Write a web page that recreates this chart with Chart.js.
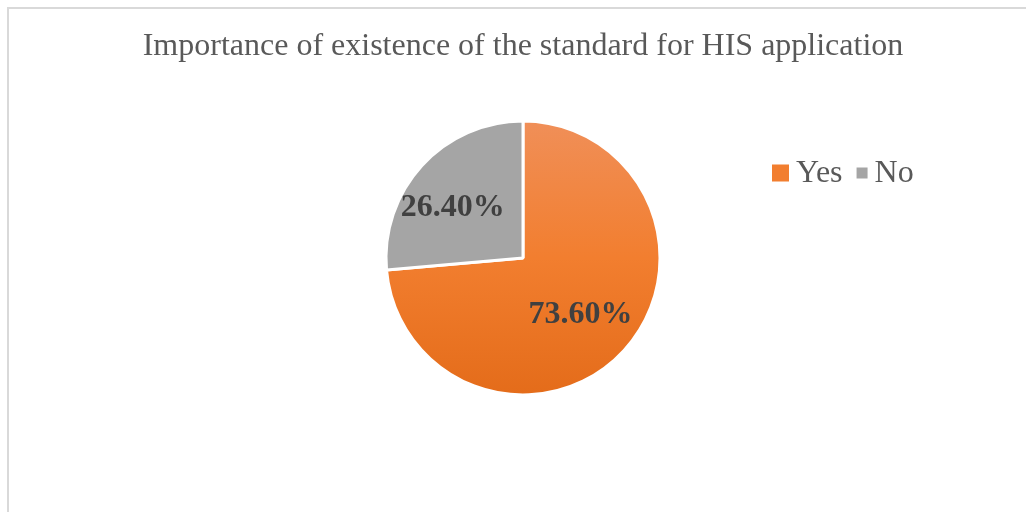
<!DOCTYPE html>
<html>
<head>
<meta charset="utf-8">
<script src="https://cdn.jsdelivr.net/npm/chart.js@4/dist/chart.umd.min.js"></script>
<style>
  html, body { margin: 0; padding: 0; background: #ffffff; }
  #wrap { position: relative; width: 1026px; height: 512px; }
</style>
</head>
<body>
<div id="wrap"><canvas id="pie" width="1026" height="512"></canvas></div>
<script>
// Survey answers and their shares (percent)
const categories = ['Yes', 'No'];
const shares = [73.6, 26.4];
const chartTitle = 'Importance of existence of the standard for HIS application';

const PIE_RADIUS = 137;
const SERIF = "'Liberation Serif', 'Times New Roman', serif";

// Orange slice gets a soft top-to-bottom gradient; the grey one is flat
function sliceFill(ctx) {
  const chart = ctx.chart;
  const area = chart.chartArea;
  if (ctx.dataIndex !== 0) return '#A5A5A5';
  if (!area) return '#F27E2F';
  const cy = (area.top + area.bottom) / 2;
  const g = chart.ctx.createLinearGradient(0, cy - PIE_RADIUS, 0, cy + PIE_RADIUS);
  g.addColorStop(0, '#F08F58');
  g.addColorStop(0.5, '#F27E2F');
  g.addColorStop(1, '#E46C1A');
  return g;
}

// Light frame along the top and left edges
const framePlugin = {
  id: 'frame',
  beforeDraw(chart) {
    const c = chart.ctx;
    c.save();
    c.fillStyle = '#D9D9D9';
    c.fillRect(7, 7, 2, chart.height - 7);
    c.fillRect(7, 7, chart.width - 7, 2);
    c.restore();
  }
};

// Percentage labels placed along each slice's middle angle
const sliceLabels = {
  id: 'sliceLabels',
  afterDatasetsDraw(chart, args, opts) {
    const c = chart.ctx;
    const meta = chart.getDatasetMeta(0);
    c.save();
    c.font = 'bold 32px ' + SERIF;
    c.fillStyle = '#404040';
    c.textAlign = 'center';
    c.textBaseline = 'middle';
    meta.data.forEach((arc, i) => {
      const p = arc.getProps(['x', 'y', 'startAngle', 'endAngle', 'outerRadius'], true);
      const mid = (p.startAngle + p.endAngle) / 2 + opts.angleShift[i];
      const r = p.outerRadius * opts.radial[i];
      const x = p.x + Math.cos(mid) * r;
      const y = p.y + Math.sin(mid) * r;
      c.fillText(chart.data.datasets[0].data[i].toFixed(2) + '%', x, y + 2);
    });
    c.restore();
  }
};

// Horizontal legend to the right of the pie
const sideLegend = {
  id: 'sideLegend',
  afterDraw(chart, args, opts) {
    const c = chart.ctx;
    const colors = ['#F27E2F', '#A5A5A5'];
    c.save();
    c.font = '32px ' + SERIF;
    c.textBaseline = 'alphabetic';
    let x = opts.x;
    chart.data.labels.forEach((label, i) => {
      const s = opts.boxSizes[i];
      c.fillStyle = colors[i];
      c.fillRect(x, opts.midY - s / 2, s, s);
      x += s + opts.boxGap;
      c.fillStyle = '#595959';
      c.fillText(label, x, opts.baseline);
      x += c.measureText(label).width + opts.itemGap;
    });
    c.restore();
  }
};

new Chart(document.getElementById('pie'), {
  type: 'pie',
  data: {
    labels: categories,
    datasets: [{
      data: shares,
      backgroundColor: sliceFill,
      borderColor: '#ffffff',
      borderWidth: 3,
      radius: PIE_RADIUS
    }]
  },
  options: {
    responsive: false,
    animation: false,
    events: [],
    layout: { padding: { top: 0, bottom: 96, left: 20, right: 0 } },
    plugins: {
      legend: { display: false },
      tooltip: { enabled: false },
      title: {
        display: true,
        text: chartTitle,
        color: '#595959',
        font: { family: SERIF, size: 32, weight: 'normal', lineHeight: 1.2 },
        padding: { top: 27, bottom: 34.6 }
      },
      sliceLabels: { radial: [0.58, 0.64], angleShift: [0.02, -0.1] },
      sideLegend: { x: 772, midY: 173, baseline: 182, boxSizes: [17, 11], boxGap: 7, itemGap: 14 }
    }
  },
  plugins: [framePlugin, sliceLabels, sideLegend]
});
</script>
</body>
</html>
